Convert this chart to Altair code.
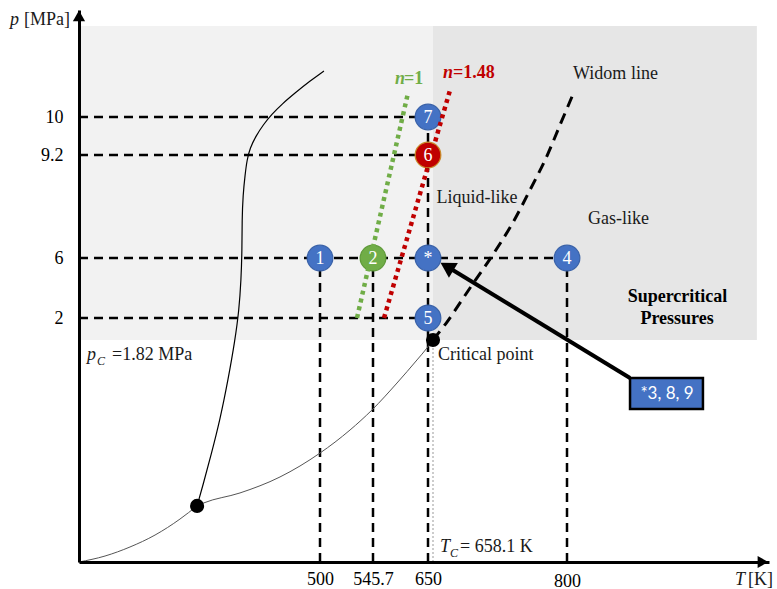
import altair as alt
import pandas as pd

# ---------------- diagram data (T in K, p in MPa) ----------------
T_ticks = [500, 545.7, 650, 800]
p_ticks = [2, 6, 9.2, 10]

T_c, p_c = 658.1, 1.82        # critical point
T_tp, p_tp = 398, 0.46        # triple point
T_min, T_max = 300, 1000
p_min, p_max = 0, 12
p_region_top = 11.7
T_region_right = 988

# operating points
state_names = ["1", "2", "*", "4", "5", "6", "7"]
state_T = [500, 545.7, 650, 800, 650, 650, 650]
state_p = [6, 6, 6, 6, 2, 9.2, 10]
state_kind = ["ref", "n1", "ref", "ref", "ref", "n148", "ref"]

# sublimation branch: origin -> triple point
subl_T = [300, 321.6, 342.3, 363.1, 383.8, 398]
subl_p = [0, 0.049, 0.123, 0.221, 0.352, 0.46]

# vapour-pressure branch: triple point -> critical point
vap_T = [398, 403.5, 433.6, 466.8, 500, 525.9, 544.8, 591.2, 629.1, 648.1, 658.1]
vap_p = [0.46, 0.484, 0.566, 0.697, 0.893, 1.082, 1.246, 1.467, 1.656, 1.754, 1.82]

# melting curve from the triple point
melt_T = [398, 402.9, 409.6, 417.0, 423.7, 429.5, 432.8, 434.5, 435.3, 435.3, 436.1,
          437.8, 439.4, 441.9, 446.9, 452.7, 460.2, 468.5, 479.3, 491.7, 503.4]
melt_p = [0.46, 0.631, 0.877, 1.164, 1.492, 1.82, 2.533, 4.533, 6.248, 7.180, 7.957,
          8.579, 9.045, 9.347, 9.600, 9.832, 10.056, 10.243, 10.449, 10.673, 10.860]

# Widom line from the critical point
widom_T = [658.1, 672.9, 697.3, 720.6, 741.8, 760.8, 777.8, 792.6, 806.9]
widom_p = [1.82, 1.967, 4.0, 6.062, 7.056, 8.113, 9.107, 9.832, 10.467]

# expansion paths
n1_T = [531.9, 612.1]
n1_p = [2.0, 10.45]
n148_T = [566.6, 676.1]
n148_p = [2.0, 10.5]

box_label = "*3, 8, 9"

# ---------------- scales & axes ----------------
serif = "Liberation Serif"
BLUE, GREEN, RED = "#4472c4", "#70ad47", "#c00000"

x_scale = alt.Scale(domain=[T_min, 500, 545.7, 650, T_c, 800, T_max],
                    range=[0, 241, 294, 349, 354, 488, 690], nice=False, zero=False)
y_scale = alt.Scale(domain=[p_min, 2, 6, 9.2, 10, p_max],
                    range=[552, 308, 248, 145, 107, 0], nice=False, zero=False)

x_axis = alt.Axis(values=T_ticks, format=".1~f", ticks=False, grid=False,
                  domainColor="black", domainWidth=3, labelFont=serif,
                  labelFontSize=18, labelColor="black",
                  labelPadding={"condition": {"test": "datum.value === 800", "value": 10},
                                "value": 8},
                  labelOverlap=False, labelFlush=False, zindex=1)
y_axis = alt.Axis(values=p_ticks, format=".1~f", ticks=False, grid=False,
                  domainColor="black", domainWidth=3, labelFont=serif,
                  labelFontSize=18, labelColor="black", labelPadding=16,
                  labelOverlap=False, labelFlush=False, zindex=1)


def X(field):
    return alt.X(f"{field}:Q", scale=x_scale, axis=x_axis, title=None)


def Y(field):
    return alt.Y(f"{field}:Q", scale=y_scale, axis=y_axis, title=None)


def curve(Ts, ps):
    return pd.DataFrame({"T": Ts, "p": ps, "i": range(len(Ts))})


# ---------------- layers ----------------
regions = pd.DataFrame({"T": [T_min, T_c], "T2": [T_c, T_region_right],
                        "p": [p_c, p_c], "p2": [p_region_top, p_region_top],
                        "shade": ["left", "right"]})
region_layer = alt.Chart(regions).mark_rect().encode(
    x=X("T"), x2="T2", y=Y("p"), y2="p2",
    color=alt.Color("shade:N", legend=None,
                    scale=alt.Scale(domain=["left", "right"], range=["#f2f2f2", "#e6e6e6"])))

tc_layer = alt.Chart(pd.DataFrame({"T": [T_c], "p0": [p_min], "p": [p_c]})).mark_rule(
    color="#999999", strokeWidth=1, strokeDash=[2, 2]).encode(x=X("T"), y=Y("p0"), y2="p")

states = pd.DataFrame({"name": state_names, "T": state_T, "p": state_p, "kind": state_kind})
hg = states.groupby("p", as_index=False)["T"].max()
hg["T0"] = T_min
vg = states.groupby("T", as_index=False)["p"].max()
vg["p0"] = p_min

dash = dict(color="black", strokeWidth=2.5, strokeDash=[9, 6], strokeCap="butt")
h_layer = alt.Chart(hg).mark_rule(**dash).encode(x=X("T0"), x2="T", y=Y("p"))
v_layer = alt.Chart(vg).mark_rule(**dash).encode(x=X("T"), y=Y("p0"), y2="p")

subl_layer = alt.Chart(curve(subl_T, subl_p)).mark_line(
    color="#555555", strokeWidth=1, interpolate="monotone").encode(
    x=X("T"), y=Y("p"), order="i:Q")
vap_layer = alt.Chart(curve(vap_T, vap_p)).mark_line(
    color="#555555", strokeWidth=1, interpolate="monotone").encode(
    x=X("T"), y=Y("p"), order="i:Q")
melt_layer = alt.Chart(curve(melt_T, melt_p)).mark_line(
    color="black", strokeWidth=1.2, interpolate="basis").encode(
    x=X("T"), y=Y("p"), order="i:Q")
widom_layer = alt.Chart(curve(widom_T, widom_p)).mark_line(
    color="black", strokeWidth=3, strokeDash=[11, 7], strokeCap="butt",
    interpolate="catmull-rom").encode(x=X("T"), y=Y("p"), order="i:Q")

n1_layer = alt.Chart(curve(n1_T, n1_p)).mark_line(
    color=GREEN, strokeWidth=4.5, strokeDash=[4, 4], strokeCap="butt").encode(
    x=X("T"), y=Y("p"), order="i:Q")
n148_layer = alt.Chart(curve(n148_T, n148_p)).mark_line(
    color=RED, strokeWidth=4.5, strokeDash=[4, 4], strokeCap="butt").encode(
    x=X("T"), y=Y("p"), order="i:Q")

kinds = ["ref", "n1", "n148"]
state_layer = alt.Chart(states).mark_point(
    shape="circle", filled=True, size=660, opacity=1, strokeWidth=1.2).encode(
    x=X("T"), y=Y("p"),
    fill=alt.Fill("kind:N", legend=None, scale=alt.Scale(domain=kinds, range=[BLUE, GREEN, RED])),
    stroke=alt.Stroke("kind:N", legend=None,
                      scale=alt.Scale(domain=kinds, range=["#3a62a8", "#5f9a3a", "#c98a2a"])))
state_text = alt.Chart(states).mark_text(
    font=serif, fontSize=18, color="white", baseline="middle", dy=1).encode(
    x=X("T"), y=Y("p"), text="name:N")

special = pd.DataFrame({"T": [T_tp, T_c], "p": [p_tp, p_c]})
special_layer = alt.Chart(special).mark_point(
    shape="circle", filled=True, size=200, color="black", opacity=1).encode(x=X("T"), y=Y("p"))

# call-out box with its arrow pointing at the "*" state
arrow = pd.DataFrame({"T": [862.4, 672.9], "p": [1.508, 5.43], "i": [0, 1]})
arrow_line = alt.Chart(arrow).mark_line(color="black", strokeWidth=4).encode(
    x=X("T"), y=Y("p"), order="i:Q")
arrow_head = alt.Chart(arrow.iloc[[1]]).mark_point(
    shape="triangle-up", filled=True, size=300, angle=301, color="black", opacity=1).encode(
    x=X("T"), y=Y("p"))
box = pd.DataFrame({"T": [862.4], "T2": [934.6], "p": [1.508], "p2": [1.254]})
box_layer = alt.Chart(box).mark_rect(fill=BLUE, stroke="black", strokeWidth=2.5).encode(
    x=X("T"), x2="T2", y=Y("p"), y2="p2")
box_text = alt.Chart(pd.DataFrame({"T": [899], "p": [1.381], "t": [box_label]})).mark_text(
    font="Lato", fontSize=17, color="white", baseline="middle").encode(
    x=X("T"), y=Y("p"), text="t:N")


def text_layer(rows, **style):
    df = pd.DataFrame(rows, columns=["t", "T", "p"])
    return alt.Chart(df).mark_text(font=serif, baseline="alphabetic", **style).encode(
        x=X("T"), y=Y("p"), text="t:N")


plain_center = text_layer([["Widom line", 848, 10.71],
                           ["Liquid-like", 704.7, 7.709],
                           ["Gas-like", 851, 7.056]],
                          align="center", fontSize=18, color="#1a1a1a")
bold_center = text_layer([["Supercritical", 909.4, 3.067],
                          ["Pressures", 909, 1.951]],
                         align="center", fontSize=18, fontWeight="bold", color="black")
plain_left = text_layer([["Critical point", 663.4, 1.656],
                         ["=1.82 MPa", 327.4, 1.656],
                         ["= 658.1 K", 686.7, 0.082]],
                        align="left", fontSize=18, color="#1a1a1a")
italic_left = text_layer([["p", 306.6, 1.656], ["T", 665.5, 0.082]],
                         align="left", fontSize=18, fontStyle="italic", color="#1a1a1a")
subscripts = text_layer([["C", 314.9, 1.615], ["C", 676.1, 0.041]],
                        align="left", fontSize=12, fontStyle="italic", color="#1a1a1a")
n_green = text_layer([["n", 587.4, 10.617]], align="left", fontSize=18,
                     fontStyle="italic", fontWeight="bold", color=GREEN)
eq_green = text_layer([["=1", 604.5, 10.617]], align="left", fontSize=18,
                      fontWeight="bold", color=GREEN)
n_red = text_layer([["n", 668.7, 10.729]], align="left", fontSize=18,
                   fontStyle="italic", fontWeight="bold", color=RED)
eq_red = text_layer([["=1.48", 679.3, 10.729]], align="left", fontSize=18,
                    fontWeight="bold", color=RED)

# arrow tips on the ends of both axes
axis_tips = pd.DataFrame({"T": [T_min, 994], "p": [11.89, p_min]})
tip_y = alt.Chart(axis_tips.iloc[[0]]).mark_point(
    shape="triangle-up", filled=True, size=150, angle=0, color="black", opacity=1).encode(
    x=X("T"), y=Y("p"))
tip_x = alt.Chart(axis_tips.iloc[[1]]).mark_point(
    shape="triangle-up", filled=True, size=150, angle=90, color="black", opacity=1).encode(
    x=X("T"), y=Y("p"))

# axis titles
title_bits = [
    ("p", -69, 15, "italic"), ("[MPa]", -55, 15, "normal"),
    ("T", 656, 575, "italic"), ("[K]", 669, 575, "normal"),
]
title_layers = [
    alt.Chart(pd.DataFrame({"t": [s]})).mark_text(
        font=serif, fontSize=18, fontStyle=fs, align="left", baseline="alphabetic",
        color="#1a1a1a").encode(x=alt.value(xv), y=alt.value(yv), text="t:N")
    for s, xv, yv, fs in title_bits
]

chart = alt.layer(
    region_layer, tc_layer, h_layer, v_layer, subl_layer, vap_layer, melt_layer, widom_layer,
    state_layer, n1_layer, n148_layer, state_text, special_layer,
    arrow_line, arrow_head, box_layer, box_text,
    plain_center, bold_center, plain_left, italic_left, subscripts,
    n_green, eq_green, n_red, eq_red, tip_y, tip_x, *title_layers
).properties(
    width=690, height=552,
    autosize=alt.AutoSizeParams(type="none"),
    padding={"left": 79, "top": 10, "right": 8, "bottom": 27},
    background="white",
).configure_view(stroke=None)

chart.save("out.html", embed_options={"renderer": "svg", "actions": False})
